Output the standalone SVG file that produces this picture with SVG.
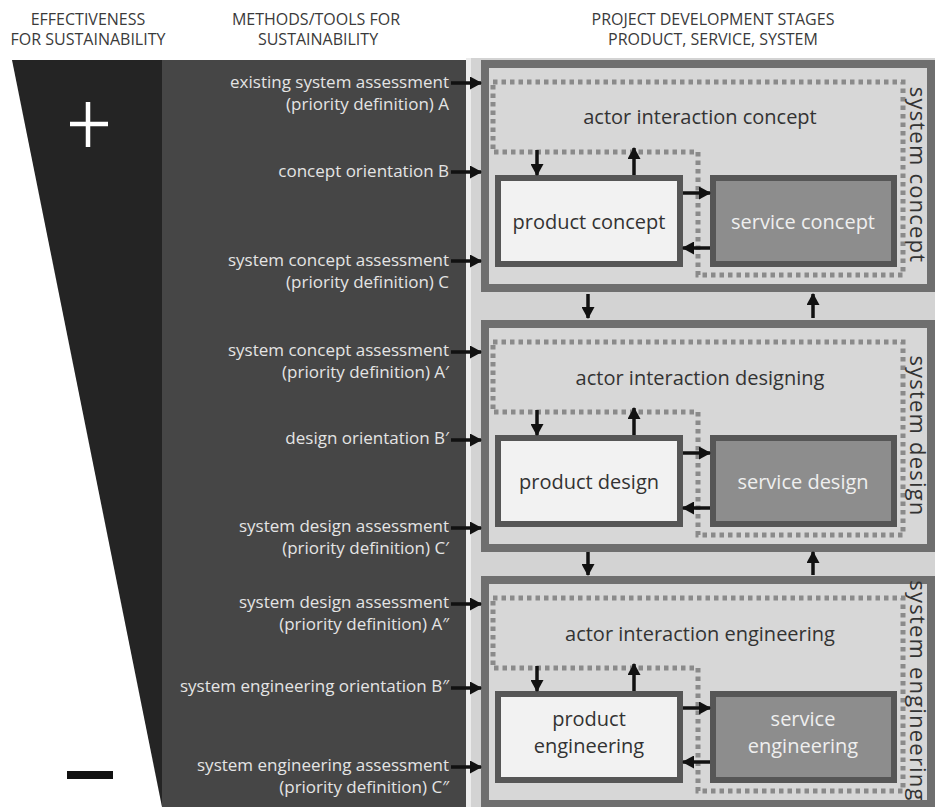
<svg xmlns="http://www.w3.org/2000/svg" width="935" height="807" viewBox="0 0 935 807">
<defs>
<marker id="ah" markerUnits="userSpaceOnUse" markerWidth="12" markerHeight="13" refX="11" refY="6.5" orient="auto"><path d="M0,0 L12,6.5 L0,13 z" fill="#111"/></marker>
</defs>
<style>
text{font-family:"Open Sans","DejaVu Sans",sans-serif}
.hdr{font-size:16px;fill:#3a3a3a;text-anchor:middle}
.lt{font-size:17px;fill:#e4e4e4;text-anchor:end}
.outer{fill:#d7d7d7;stroke:#6f6f6f;stroke-width:8}
.dot{fill:none;stroke:#8a8a8a;stroke-width:5;stroke-dasharray:4.5 4}
.prod{fill:#f2f2f2;stroke:#565656;stroke-width:6}
.serv{fill:#8d8d8d;stroke:#565656;stroke-width:6}
.bt{font-size:20px;fill:#333;text-anchor:middle}
.st{font-size:20px;fill:#efefef;text-anchor:middle}
.vt{font-size:22px;fill:#333;text-anchor:middle;letter-spacing:1.2px}
.arr{stroke:#111;stroke-width:3.5;fill:none;marker-end:url(#ah)}
</style>
<rect x="0" y="0" width="935" height="807" fill="#ffffff"/>
<g id="headers">
<text class="hdr" x="88" y="25">EFFECTIVENESS</text>
<text class="hdr" x="88" y="45">FOR SUSTAINABILITY</text>
<text class="hdr" x="316" y="25">METHODS/TOOLS FOR</text>
<text class="hdr" x="318" y="45">SUSTAINABILITY</text>
<text class="hdr" x="713" y="25">PROJECT DEVELOPMENT STAGES</text>
<text class="hdr" x="713" y="45">PRODUCT, SERVICE, SYSTEM</text>
</g>
<g id="effectiveness">
<rect x="162" y="60" width="304" height="747" fill="#464646"/>
<polygon points="12,60 162,60 162,807" fill="#242424"/>
<path d="M88,102 V147 M70,124 H108" stroke="#ffffff" stroke-width="4.5" fill="none"/>
<rect x="67" y="771" width="46" height="8" fill="#111"/>
</g>
<g id="panel">
<rect x="466" y="58" width="469" height="749" fill="#d3d3d3"/>
<rect x="466" y="58" width="5" height="749" fill="#ececec"/>
</g>
<g id="methods">
<text class="lt" x="449" y="88">existing system assessment</text>
<text class="lt" x="449" y="110">(priority definition) A</text>
<text class="lt" x="449" y="177">concept orientation B</text>
<text class="lt" x="449" y="266">system concept assessment</text>
<text class="lt" x="449" y="288">(priority definition) C</text>
<text class="lt" x="449" y="356">system concept assessment</text>
<text class="lt" x="449" y="378">(priority definition) A′</text>
<text class="lt" x="449" y="444">design orientation B′</text>
<text class="lt" x="449" y="532">system design assessment</text>
<text class="lt" x="449" y="554">(priority definition) C′</text>
<text class="lt" x="449" y="608">system design assessment</text>
<text class="lt" x="449" y="630">(priority definition) A″</text>
<text class="lt" x="449" y="692">system engineering orientation B″</text>
<text class="lt" x="449" y="771">system engineering assessment</text>
<text class="lt" x="449" y="793">(priority definition) C″</text>
</g>
<g id="system-concept">
<rect class="outer" x="485" y="64" width="446" height="224"/>
<polygon class="dot" points="493,82 903,82 903,275 698,275 698,152 493,152"/>
<text class="bt" x="700" y="124">actor interaction concept</text>
<rect class="prod" x="498" y="178" width="182" height="86"/>
<text class="bt" x="589" y="229">product concept</text>
<rect class="serv" x="713" y="178" width="181" height="86"/>
<text class="st" x="803" y="229">service concept</text>
<text class="vt" x="920" y="185" transform="rotate(90 920 175)">system concept</text>
</g>
<g id="system-design">
<rect class="outer" x="485" y="324" width="446" height="224"/>
<polygon class="dot" points="493,342 903,342 903,535 698,535 698,412 493,412"/>
<text class="bt" x="700" y="385">actor interaction designing</text>
<rect class="prod" x="498" y="438" width="182" height="86"/>
<text class="bt" x="589" y="489">product design</text>
<rect class="serv" x="713" y="438" width="181" height="86"/>
<text class="st" x="803" y="489">service design</text>
<text class="vt" x="920" y="446" transform="rotate(90 920 436)">system design</text>
</g>
<g id="system-engineering">
<rect class="outer" x="485" y="580" width="446" height="224"/>
<polygon class="dot" points="493,598 903,598 903,791 698,791 698,668 493,668"/>
<text class="bt" x="700" y="641">actor interaction engineering</text>
<rect class="prod" x="498" y="694" width="182" height="86"/>
<text class="bt" x="589" y="726">product</text>
<text class="bt" x="589" y="753">engineering</text>
<rect class="serv" x="713" y="694" width="181" height="86"/>
<text class="st" x="803" y="726">service</text>
<text class="st" x="803" y="753">engineering</text>
<text class="vt" x="920" y="701" transform="rotate(90 920 691)">system engineering</text>
</g>
<g id="connectors">
<path class="arr" d="M451,83 H481"/>
<path class="arr" d="M451,172 H481"/>
<path class="arr" d="M451,261 H481"/>
<path class="arr" d="M451,352 H481"/>
<path class="arr" d="M451,440 H481"/>
<path class="arr" d="M451,528 H481"/>
<path class="arr" d="M451,604 H481"/>
<path class="arr" d="M451,688 H481"/>
<path class="arr" d="M451,767 H481"/>
<path class="arr" d="M537,150 V175"/>
<path class="arr" d="M634,175 V148"/>
<path class="arr" d="M683,193 H710"/>
<path class="arr" d="M710,248 H683"/>
<path class="arr" d="M537,410 V435"/>
<path class="arr" d="M634,435 V408"/>
<path class="arr" d="M683,453 H710"/>
<path class="arr" d="M710,508 H683"/>
<path class="arr" d="M537,666 V691"/>
<path class="arr" d="M634,691 V664"/>
<path class="arr" d="M683,708 H710"/>
<path class="arr" d="M710,762 H683"/>
<path class="arr" d="M588,294 V318"/>
<path class="arr" d="M813,318 V294"/>
<path class="arr" d="M588,552 V575"/>
<path class="arr" d="M813,575 V552"/>
</g>
</svg>
